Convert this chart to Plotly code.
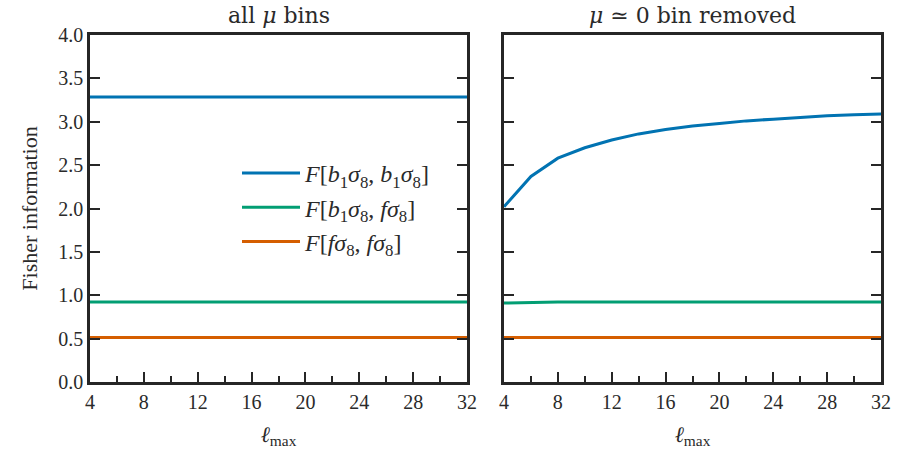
import plotly.graph_objects as go
from plotly.subplots import make_subplots

ell_left = [4, 32]
bb_left = [3.285, 3.285]
bf_left = [0.922, 0.922]
ff_left = [0.513, 0.513]

ell_right = [4, 6, 8, 10, 12, 14, 16, 18, 20, 22, 24, 26, 28, 30, 32]
bb_right = [2.02, 2.37, 2.58, 2.70, 2.79, 2.86, 2.91, 2.95, 2.98, 3.01, 3.03, 3.05, 3.07, 3.08, 3.09]
bf_right = [0.91, 0.92, 0.922, 0.922, 0.922, 0.922, 0.922, 0.922, 0.922, 0.922, 0.922, 0.922, 0.922, 0.922, 0.922]
ff_right = [0.513] * 15

names = ["<i>F</i>[<i>b</i><sub>1</sub><i>σ</i><sub>8</sub>, <i>b</i><sub>1</sub><i>σ</i><sub>8</sub>]",
         "<i>F</i>[<i>b</i><sub>1</sub><i>σ</i><sub>8</sub>, <i>fσ</i><sub>8</sub>]",
         "<i>F</i>[<i>fσ</i><sub>8</sub>, <i>fσ</i><sub>8</sub>]"]
titles = ["all <i>μ</i> bins", "<i>μ</i> ≃ 0 bin removed"]
colors = ["#0173B2", "#029E73", "#D55E00"]

FONT = "Liberation Serif"
TFONT = "DejaVu Serif"
AX = "#262626"
TXT = "#2a2a2a"

fig = make_subplots(rows=1, cols=2)
for i, (yl, yr) in enumerate([(bb_left, bb_right), (bf_left, bf_right), (ff_left, ff_right)]):
    fig.add_trace(go.Scatter(x=ell_left, y=yl, mode="lines", name=names[i],
                             line=dict(color=colors[i], width=3), legendgroup=str(i)), row=1, col=1)
    fig.add_trace(go.Scatter(x=ell_right, y=yr, mode="lines", name=names[i], showlegend=False,
                             line=dict(color=colors[i], width=3), legendgroup=str(i)), row=1, col=2)

xcommon = dict(range=[4, 32], tickvals=[4, 8, 12, 16, 20, 24, 28, 32], ticks="inside", ticklen=10,
               tickwidth=2, tickcolor=AX, showline=True, linecolor=AX, linewidth=2.5, mirror=True,
               showgrid=False, zeroline=False, tickfont=dict(family=FONT, size=20, color=TXT),
               automargin=False,
               minor=dict(ticks="inside", dtick=2, tick0=4, ticklen=6, tickwidth=2, tickcolor=AX))
ycommon = dict(range=[0, 4], dtick=0.5, tickformat=".1f", ticks="inside", ticklen=10, tickwidth=2,
               tickcolor=AX, showline=True, linecolor=AX, linewidth=2.5, mirror="ticks",
               showgrid=False, zeroline=False, automargin=False,
               tickfont=dict(family=FONT, size=20, color=TXT))

fig.update_xaxes(**xcommon)
fig.update_yaxes(**ycommon)
fig.update_xaxes(domain=[90/900, 467/900], row=1, col=1,
                 title=dict(text="<i>ℓ</i><sub>max</sub>", font=dict(family=FONT, size=22, color=TXT)))
fig.update_xaxes(domain=[504/900, 881/900], row=1, col=2,
                 title=dict(text="<i>ℓ</i><sub>max</sub>", font=dict(family=FONT, size=22, color=TXT)))
fig.update_yaxes(domain=[1-382/450, 1-35/450], row=1, col=1,
                 title=dict(text="Fisher information", font=dict(family=FONT, size=22, color=TXT)))
fig.update_yaxes(domain=[1-382/450, 1-35/450], row=1, col=2, showticklabels=False)

for xc, txt in zip([(90+467)/1800, (504+881)/1800], titles):
    fig.add_annotation(text=txt, x=xc, y=1-30/450, xref="paper", yref="paper", xanchor="center",
                       yanchor="bottom", showarrow=False,
                       font=dict(family=TFONT, size=22, color=TXT))

fig.update_layout(width=900, height=450, margin=dict(l=0, r=0, t=0, b=0),
                  font=dict(family=FONT, color=TXT),
                  plot_bgcolor="white", paper_bgcolor="white",
                  legend=dict(x=237/900, y=1-151/450, xanchor="left", yanchor="top",
                              font=dict(family=FONT, size=24, color=TXT), tracegroupgap=0,
                              itemwidth=58, bgcolor="rgba(0,0,0,0)"))
fig.write_html("out.html")
